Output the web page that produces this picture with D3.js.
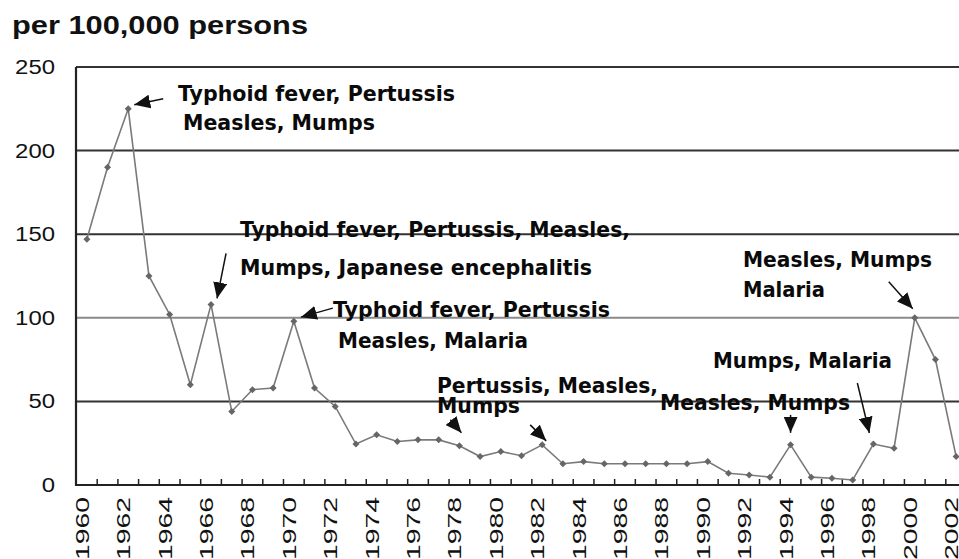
<!DOCTYPE html>
<html>
<head>
<meta charset="utf-8">
<script src="https://cdn.jsdelivr.net/npm/d3@7"></script>
<style>
  body { margin: 0; background: #fff; }
  svg { display: block; }
  text { font-family: "Liberation Sans", Arial, sans-serif; fill: #111; }
  .note { font-family: "DejaVu Sans", Verdana, sans-serif; font-weight: bold; font-size: 21px; fill: #0a0a0a; }
</style>
</head>
<body>
<svg width="959" height="559"></svg>
<script>
// ---------------------------------------------------------------------------
// data (rate per 100,000 persons)
// ---------------------------------------------------------------------------
const years = d3.range(1960, 2003);
const rates = [
  147, 190, 225, 125, 102, 60, 108, 44, 57, 58,
  98, 58, 47, 24.5, 30, 26, 27, 27, 23.5, 17,
  20, 17.5, 24, 12.7, 14, 12.7, 12.7, 12.7, 12.7, 12.7,
  14, 7, 6, 4.7, 24, 4.7, 4, 3, 24.5, 22,
  100, 75, 17
];
const yTicks = [0, 50, 100, 150, 200, 250];
const yearLabels = years.filter((d) => d % 2 === 0);

// annotation texts, one entry per line
const notes = [
  "Typhoid fever, Pertussis",
  "Measles, Mumps",
  "Typhoid fever, Pertussis, Measles,",
  "Mumps, Japanese encephalitis",
  "Typhoid fever, Pertussis",
  "Measles, Malaria",
  "Pertussis, Measles,",
  "Mumps",
  "Measles, Mumps",
  "Mumps, Malaria",
  "Measles, Mumps",
  "Malaria"
];
// years the arrows point at
const arrowYears = [1962, 1966, 1970, 1978, 1982, 1994, 1998, 2000];

// ---------------------------------------------------------------------------
// layout
// ---------------------------------------------------------------------------
const svg = d3.select("svg");
const plotLeft = 76, plotTop = 67, plotBottom = 485, plotRight = 959;

const x = d3.scaleBand().domain(years).range([76.5, 966.5]);
const cx = (d) => x(d) + x.bandwidth() / 2;
const y = d3.scaleLinear().domain([0, 250]).range([plotBottom, plotTop]);

// where each note line sits [x, baseline, textLength]
const notePos = [
  [178, 101, 277], [183, 130, 192],
  [240, 237, 390], [240, 275, 352],
  [333, 317, 277], [338, 348, 190],
  [437, 393, 221], [437, 413, 83],
  [660, 410, 190],
  [713, 368, 179],
  [743, 267, 189], [743, 297, 82]
];
// arrow tail / tip offsets from the data point [tailDx, tailDy, tipDx, tipDy]
const arrowPos = [
  [35, -10, 6, -4],
  [15, -51, 6, -6],
  [39, -13, 7, -4],
  [-9, -26, 2, -13],
  [-12, -20, 4, -4],
  [0, -30, 0, -12],
  [-16, -61, -4, -11],
  [-26, -36, -2, -9]
];

// ---------------------------------------------------------------------------
// grid + axes
// ---------------------------------------------------------------------------
svg.append("g")
  .selectAll("line")
  .data(yTicks.filter((d) => d > 0))
  .join("line")
  .attr("x1", plotLeft)
  .attr("x2", plotRight)
  .attr("y1", (d) => y(d))
  .attr("y2", (d) => y(d))
  .attr("stroke", (d) => (d === 100 ? "#8a8a8a" : "#333"))
  .attr("stroke-width", 2);

const yAxis = svg.append("g")
  .attr("transform", `translate(${plotLeft},0)`)
  .call(d3.axisLeft(y).tickValues(yTicks).tickSize(0).tickPadding(21));
yAxis.select(".domain").remove();
yAxis.selectAll("text")
  .style("font-family", '"Liberation Sans", Arial, sans-serif')
  .style("font-size", "20px")
  .attr("fill", "#111")
  .attr("textLength", (d) => String(d).length * 13.3)
  .attr("lengthAdjust", "spacingAndGlyphs");

svg.append("line")
  .attr("x1", plotLeft).attr("x2", plotLeft)
  .attr("y1", plotTop).attr("y2", plotBottom + 1)
  .attr("stroke", "#222").attr("stroke-width", 2.2);
svg.append("line")
  .attr("x1", plotLeft).attr("x2", plotRight)
  .attr("y1", plotBottom).attr("y2", plotBottom)
  .attr("stroke", "#222").attr("stroke-width", 2.2);

// small ticks between the years, pointing up
svg.append("g")
  .selectAll("line")
  .data(years.slice(1))
  .join("line")
  .attr("x1", (d) => x(d))
  .attr("x2", (d) => x(d))
  .attr("y1", plotBottom - 6)
  .attr("y2", plotBottom)
  .attr("stroke", "#222")
  .attr("stroke-width", 1.5);

svg.append("g")
  .selectAll("text")
  .data(yearLabels)
  .join("text")
  .attr("transform", (d) => `translate(${cx(d) + 2},497) rotate(-90)`)
  .attr("text-anchor", "end")
  .style("font-size", "18px")
  .attr("textLength", 63)
  .attr("lengthAdjust", "spacingAndGlyphs")
  .text((d) => d);

// ---------------------------------------------------------------------------
// series
// ---------------------------------------------------------------------------
const line = d3.line().x((d, i) => cx(years[i])).y((d) => y(d));
svg.append("path")
  .datum(rates)
  .attr("fill", "none")
  .attr("stroke", "#7a7a7a")
  .attr("stroke-width", 1.6)
  .attr("d", line);

svg.append("g")
  .selectAll("path")
  .data(rates)
  .join("path")
  .attr("transform", (d, i) => `translate(${cx(years[i])},${y(d)})`)
  .attr("d", "M0,-3.5L3.5,0L0,3.5L-3.5,0Z")
  .attr("fill", "#666");

// ---------------------------------------------------------------------------
// title + notes
// ---------------------------------------------------------------------------
svg.append("text")
  .attr("x", 12)
  .attr("y", 34)
  .style("font-size", "25px")
  .style("font-weight", "bold")
  .attr("textLength", 296)
  .attr("lengthAdjust", "spacingAndGlyphs")
  .text("per 100,000 persons");

svg.append("g")
  .selectAll("text")
  .data(notes)
  .join("text")
  .attr("class", "note")
  .attr("x", (d, i) => notePos[i][0])
  .attr("y", (d, i) => notePos[i][1])
  .attr("textLength", (d, i) => notePos[i][2])
  .attr("lengthAdjust", "spacingAndGlyphs")
  .text((d) => d);

svg.append("defs")
  .append("marker")
  .attr("id", "head")
  .attr("markerUnits", "userSpaceOnUse")
  .attr("markerWidth", 17)
  .attr("markerHeight", 14)
  .attr("refX", 16)
  .attr("refY", 7)
  .attr("orient", "auto")
  .append("path")
  .attr("d", "M0,0L16,7L0,14Z")
  .attr("fill", "#111");

svg.append("g")
  .selectAll("line")
  .data(arrowYears)
  .join("line")
  .each(function (d, i) {
    const px = cx(d), py = y(rates[years.indexOf(d)]);
    const p = arrowPos[i];
    d3.select(this)
      .attr("x1", px + p[0]).attr("y1", py + p[1])
      .attr("x2", px + p[2]).attr("y2", py + p[3]);
  })
  .attr("stroke", "#111")
  .attr("stroke-width", 1.5)
  .attr("marker-end", "url(#head)");
</script>
</body>
</html>
